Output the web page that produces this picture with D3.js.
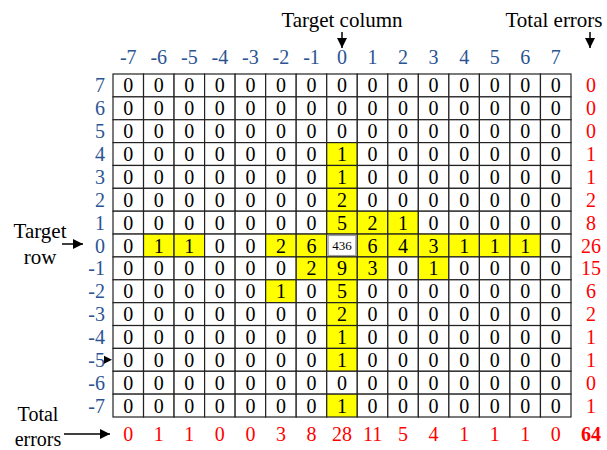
<!DOCTYPE html>
<html>
<head>
<meta charset="utf-8">
<script src="https://cdn.jsdelivr.net/npm/d3@7"></script>
<style>
  html, body { margin: 0; padding: 0; background: #fff; }
  svg { display: block; }
  svg text { font-family: "Liberation Serif", "DejaVu Serif", serif; }
</style>
</head>
<body>
<svg id="chart" width="607" height="450"></svg>
<script>
// Column offsets (left to right) and row offsets (top to bottom)
const colLabels = [-7, -6, -5, -4, -3, -2, -1, 0, 1, 2, 3, 4, 5, 6, 7];
const rowLabels = [7, 6, 5, 4, 3, 2, 1, 0, -1, -2, -3, -4, -5, -6, -7];

// Error counts per cell, one array per row (row 7 first), columns -7..7
const row7  = [0,0,0,0,0,0,0,0,0,0,0,0,0,0,0];
const row6  = [0,0,0,0,0,0,0,0,0,0,0,0,0,0,0];
const row5  = [0,0,0,0,0,0,0,0,0,0,0,0,0,0,0];
const row4  = [0,0,0,0,0,0,0,1,0,0,0,0,0,0,0];
const row3  = [0,0,0,0,0,0,0,1,0,0,0,0,0,0,0];
const row2  = [0,0,0,0,0,0,0,2,0,0,0,0,0,0,0];
const row1  = [0,0,0,0,0,0,0,5,2,1,0,0,0,0,0];
const row0  = [0,1,1,0,0,2,6,436,6,4,3,1,1,1,0];
const rowM1 = [0,0,0,0,0,0,2,9,3,0,1,0,0,0,0];
const rowM2 = [0,0,0,0,0,1,0,5,0,0,0,0,0,0,0];
const rowM3 = [0,0,0,0,0,0,0,2,0,0,0,0,0,0,0];
const rowM4 = [0,0,0,0,0,0,0,1,0,0,0,0,0,0,0];
const rowM5 = [0,0,0,0,0,0,0,1,0,0,0,0,0,0,0];
const rowM6 = [0,0,0,0,0,0,0,0,0,0,0,0,0,0,0];
const rowM7 = [0,0,0,0,0,0,0,1,0,0,0,0,0,0,0];
const counts = [row7,row6,row5,row4,row3,row2,row1,row0,rowM1,rowM2,rowM3,rowM4,rowM5,rowM6,rowM7];

// Totals (target cell excluded)
const rowTotals = [0,0,0,1,1,2,8,26,15,6,2,1,1,0,1];
const colTotals = [0,1,1,0,0,3,8,28,11,5,4,1,1,1,0];
const grandTotal = 64;

const svg = d3.select("#chart");
const serif = "'Liberation Serif', 'DejaVu Serif', serif";
svg.attr("font-family", serif);
const blue = "#2b5493";
const red = "#ff0000";

const x = d3.scaleBand().domain(colLabels).range([113, 571]);
const y = d3.scaleBand().domain(rowLabels).range([74, 417]);

// arrowhead marker
const defs = svg.append("defs");
defs.append("marker")
  .attr("id", "arrow")
  .attr("viewBox", "0 0 10 10")
  .attr("refX", 10).attr("refY", 5)
  .attr("markerWidth", 10).attr("markerHeight", 10)
  .attr("markerUnits", "userSpaceOnUse")
  .attr("orient", "auto")
  .append("path").attr("d", "M0,0 L10,5 L0,10 Z").attr("fill", "#000");

// cells
const cells = [];
counts.forEach((r, i) => r.forEach((v, j) => cells.push({row: rowLabels[i], col: colLabels[j], v})));

const isTarget = d => d.row === 0 && d.col === 0;

const g = svg.append("g");
g.selectAll("rect.cell").data(cells).join("rect")
  .attr("class", "cell")
  .attr("x", d => x(d.col))
  .attr("y", d => y(d.row))
  .attr("width", x.bandwidth())
  .attr("height", y.bandwidth())
  .attr("fill", d => (d.v > 0 && !isTarget(d)) ? "#ffff00" : "#ffffff")
  .attr("stroke", "#222")
  .attr("stroke-width", 1.2);

// target cell outline
g.append("rect")
  .attr("x", x(0) + 1.5).attr("y", y(0) + 1.5)
  .attr("width", x.bandwidth() - 3).attr("height", y.bandwidth() - 3)
  .attr("fill", "#fff").attr("stroke", "#999").attr("stroke-width", 1);

g.selectAll("text.val").data(cells).join("text")
  .attr("class", "val")
  .attr("x", d => x(d.col) + x.bandwidth() / 2)
  .attr("y", d => y(d.row) + y.bandwidth() / 2)
  .attr("dy", "0.35em")
  .attr("text-anchor", "middle")
  .attr("font-family", serif)
  .attr("font-size", d => isTarget(d) ? 13 : 20)
  .attr("fill", "#000")
  .text(d => d.v);

// column axis labels
svg.append("g").selectAll("text").data(colLabels).join("text")
  .attr("x", d => x(d) + x.bandwidth() / 2)
  .attr("y", 57).attr("dy", "0.35em")
  .attr("text-anchor", "middle")
  .attr("font-family", serif)
  .attr("font-size", 20).attr("fill", blue)
  .text(d => d);

// row axis labels
svg.append("g").selectAll("text").data(rowLabels).join("text")
  .attr("x", 105)
  .attr("y", d => y(d) + y.bandwidth() / 2).attr("dy", "0.35em")
  .attr("text-anchor", "end")
  .attr("font-family", serif)
  .attr("font-size", 20).attr("fill", blue)
  .text(d => d);

// row totals
svg.append("g").selectAll("text").data(rowTotals).join("text")
  .attr("x", 591)
  .attr("y", (d, i) => y(rowLabels[i]) + y.bandwidth() / 2).attr("dy", "0.35em")
  .attr("text-anchor", "middle")
  .attr("font-family", serif)
  .attr("font-size", 20).attr("fill", red)
  .text(d => d);

// column totals
svg.append("g").selectAll("text").data(colTotals).join("text")
  .attr("x", (d, i) => x(colLabels[i]) + x.bandwidth() / 2)
  .attr("y", 434).attr("dy", "0.35em")
  .attr("text-anchor", "middle")
  .attr("font-family", serif)
  .attr("font-size", 20).attr("fill", red)
  .text(d => d);

svg.append("text")
  .attr("x", 591).attr("y", 434).attr("dy", "0.35em")
  .attr("text-anchor", "middle")
  .attr("font-family", serif)
  .attr("font-size", 20).attr("font-weight", "bold").attr("fill", red)
  .text(grandTotal);

// annotations
const ann = svg.append("g").attr("font-size", 21).attr("fill", "#000").attr("font-family", serif);
ann.append("text").attr("x", 342).attr("y", 27).attr("text-anchor", "middle").text("Target column");
ann.append("text").attr("x", 554).attr("y", 27).attr("text-anchor", "middle").text("Total errors");
ann.append("text").attr("x", 40).attr("y", 238).attr("text-anchor", "middle").text("Target");
ann.append("text").attr("x", 40).attr("y", 264).attr("text-anchor", "middle").text("row");
ann.append("text").attr("x", 38).attr("y", 421).attr("font-size", 20).attr("text-anchor", "middle").text("Total");
ann.append("text").attr("x", 38).attr("y", 446).attr("font-size", 20).attr("text-anchor", "middle").text("errors");

const arrows = [
  [342, 32, 342, 48],
  [590, 32, 590, 48],
  [62, 244, 83, 244],
  [64, 434, 110, 434]
];
svg.append("g").selectAll("line").data(arrows).join("line")
  .attr("x1", d => d[0]).attr("y1", d => d[1])
  .attr("x2", d => d[2]).attr("y2", d => d[3])
  .attr("stroke", "#000").attr("stroke-width", 1.5)
  .attr("marker-end", "url(#arrow)");

// small pointer at row -5
svg.append("path")
  .attr("d", `M104,${y(-5) + y.bandwidth() / 2 - 4} L112,${y(-5) + y.bandwidth() / 2} L104,${y(-5) + y.bandwidth() / 2 + 4} Z`)
  .attr("fill", "#000");
</script>
</body>
</html>
